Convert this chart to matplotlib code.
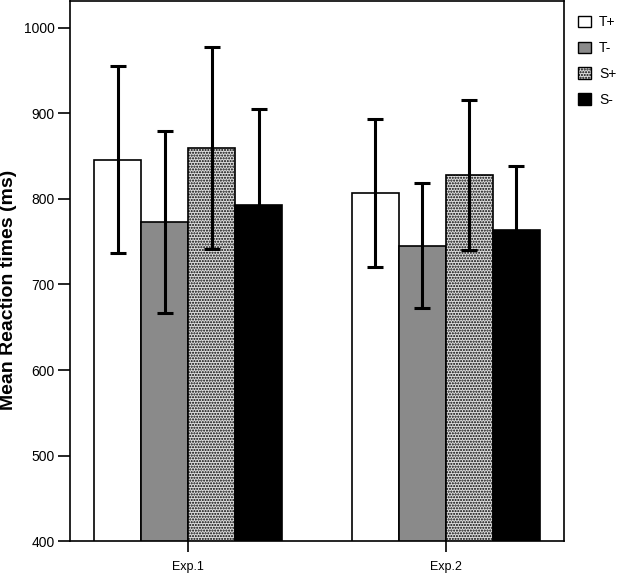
import numpy as np
import matplotlib.pyplot as plt
from matplotlib.patches import Patch

plt.rcParams['font.family'] = ['Liberation Sans', 'DejaVu Sans']
plt.rcParams['hatch.linewidth'] = 1.0

# Mean reaction times (ms) and error bar half-widths
groups = ["Exp.1", "Exp.2"]
conditions = ["T+", "T-", "S+", "S-"]
means = {
    "T+": [846, 807],
    "T-": [773, 745],
    "S+": [859, 828],
    "S-": [793, 764],
}
errors = {
    "T+": [109, 86],
    "T-": [106, 73],
    "S+": [118, 88],
    "S-": [112, 74],
}

faces = {"T+": "white", "T-": "#8a8a8a", "S+": "#dedede", "S-": "black"}
hatches = {"T+": None, "T-": None, "S+": "......", "S-": None}

fig = plt.figure(figsize=(6.25, 5.73), dpi=100)
ax = fig.add_axes([0.112, 0.0553, 0.7904, 0.9427])

x = np.arange(len(groups))
w = 0.1825
offsets = (np.arange(len(conditions)) - 1.5) * w

for i, c in enumerate(conditions):
    ax.bar(x + offsets[i], means[c], w, bottom=0, color=faces[c],
           edgecolor="black", linewidth=1.2, hatch=hatches[c], zorder=2)
for i, c in enumerate(conditions):
    ax.errorbar(x + offsets[i], means[c], yerr=errors[c], fmt="none",
                ecolor="black", elinewidth=2.2, capsize=6, capthick=2.2, zorder=3)

ax.set_ylim(400, 1031)
ax.set_xlim(-0.46, 1.46)
ax.set_yticks([400, 500, 600, 700, 800, 900, 1000])
ax.set_xticks(x)
ax.set_xticklabels(groups)
ax.tick_params(axis="y", length=9, width=1.2, labelsize=10, pad=2)
ax.tick_params(axis="x", length=8, width=1.2, labelsize=9, pad=6)
for s in ax.spines.values():
    s.set_linewidth(1.2)
ax.set_ylabel("Mean Reaction times (ms)", fontsize=14, fontweight="bold")
ax.yaxis.set_label_coords(-0.108, 0.465)

handles = [Patch(facecolor=faces[c], edgecolor="black", hatch=hatches[c]) for c in conditions]
fig.legend(handles, conditions, loc="upper left", bbox_to_anchor=(0.905, 0.995),
           frameon=False, handlelength=0.9, handleheight=0.9, handletextpad=0.6,
           labelspacing=0.85, fontsize=10)

fig.savefig("out.png", dpi=100)
